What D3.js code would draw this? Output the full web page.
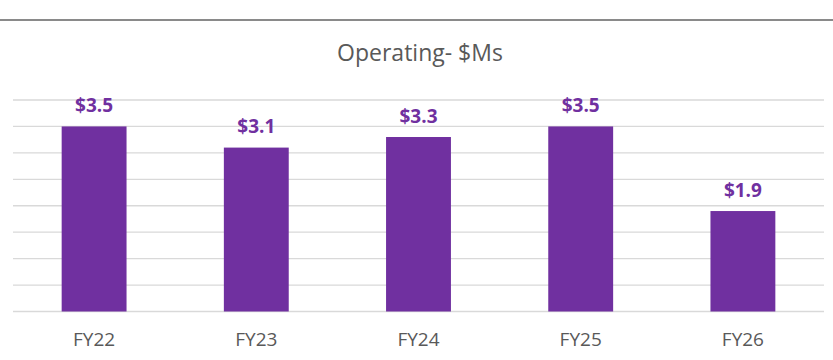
<!DOCTYPE html>
<html>
<head>
<meta charset="utf-8">
<script src="https://cdn.jsdelivr.net/npm/d3@7"></script>
<style>
  html, body { margin: 0; padding: 0; background: #fff; }
  svg { display: block; }
</style>
</head>
<body>
<svg id="chart" width="833" height="360"></svg>
<script>
// Operating spend by fiscal year, $ millions
const categories = ["FY22", "FY23", "FY24", "FY25", "FY26"];
const values = [3.5, 3.1, 3.3, 3.5, 1.9];
const gridTicks = [0, 0.5, 1, 1.5, 2, 2.5, 3, 3.5, 4];
const chartTitle = "Operating- $Ms";

const W = 833, H = 360;
const plot = { left: 13, right: 824, top: 100, bottom: 311.5 };
const purple = "#7030A0";
const textGrey = "#595959";
const fontFamily = "'Open Sans', 'Noto Sans', sans-serif";

const svg = d3.select("#chart");

// rule across the top of the panel
svg.append("line")
  .attr("x1", 0).attr("x2", W)
  .attr("y1", 20).attr("y2", 20)
  .attr("stroke", "#8a8a8a")
  .attr("stroke-width", 2);

const x = d3.scaleBand()
  .domain(categories)
  .range([plot.left, plot.right])
  .paddingInner(0.6)
  .paddingOuter(0.3);

const y = d3.scaleLinear()
  .domain([0, 4])
  .range([plot.bottom, plot.top]);

// horizontal gridlines
svg.append("g")
  .selectAll("line")
  .data(gridTicks)
  .join("line")
  .attr("x1", plot.left).attr("x2", plot.right)
  .attr("y1", d => y(d)).attr("y2", d => y(d))
  .attr("stroke", "#d9d9d9")
  .attr("stroke-width", 1.3);

// bars
svg.append("g")
  .selectAll("rect")
  .data(values)
  .join("rect")
  .attr("x", (d, i) => x(categories[i]))
  .attr("width", x.bandwidth())
  .attr("y", d => y(d))
  .attr("height", d => y(0) - y(d))
  .attr("fill", purple);

// value labels
svg.append("g")
  .selectAll("text")
  .data(values)
  .join("text")
  .attr("x", (d, i) => x(categories[i]) + x.bandwidth() / 2)
  .attr("y", d => y(d) - 14.5)
  .attr("text-anchor", "middle")
  .attr("font-family", fontFamily)
  .attr("font-weight", 700)
  .attr("font-size", 19)
  .attr("fill", purple)
  .text(d => "$" + d3.format(".1f")(d));

// category axis
const xAxis = svg.append("g")
  .attr("transform", `translate(0,${plot.bottom})`)
  .call(d3.axisBottom(x).tickSize(0).tickPadding(21));
xAxis.select(".domain").remove();
xAxis.selectAll("text")
  .attr("font-family", fontFamily)
  .attr("font-size", 19)
  .attr("fill", textGrey);

// title
svg.append("text")
  .attr("x", 420)
  .attr("y", 60.5)
  .attr("text-anchor", "middle")
  .attr("font-family", fontFamily)
  .attr("font-size", 23)
  .attr("fill", textGrey)
  .text(chartTitle);
</script>
</body>
</html>
